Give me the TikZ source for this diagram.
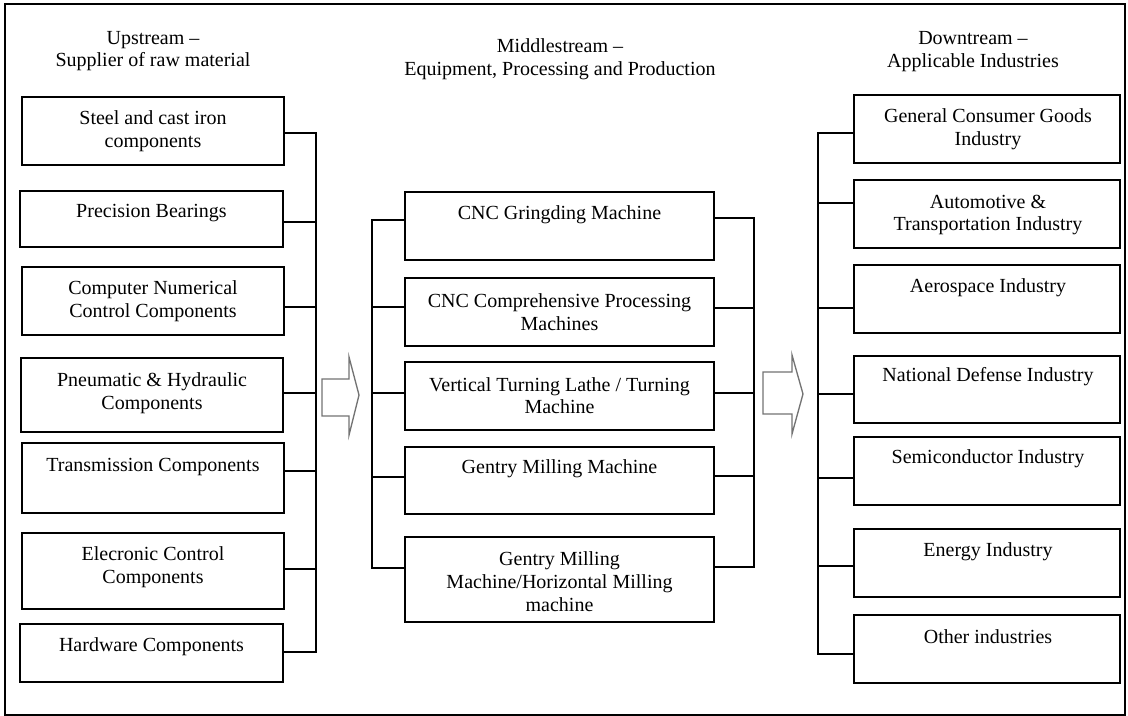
\documentclass[tikz,border=0pt]{standalone}
\usepackage{fontspec}
\setmainfont{Liberation Serif}
\usetikzlibrary{calc}
\begin{document}
\begin{tikzpicture}[x=0.75pt,y=-0.75pt,
  box/.style={draw,line width=0.9pt,inner sep=0pt},
  txt/.style={align=center,inner sep=0pt,font=\fontsize{15}{17}\selectfont},
  conn/.style={line width=1.6pt,line cap=rect},
  bigarrow/.style={draw=black!55,fill=white,line width=1pt,line join=miter}]
\useasboundingbox (0,0) rectangle (1128,716);
\draw[line width=1.3pt] (5,4) rectangle (1125,715);
% headers
\node[txt] (h1) at (153,51) {Upstream –\\Supplier of raw material};
\node[txt] (h2) at (560,59) {Middlestream –\\Equipment, Processing and Production};
\node[txt] (h3) at (973,51.5) {Downtream –\\Applicable Industries};
% left boxes
\node[box,minimum width=196.5pt,minimum height=51pt] (L1) at (153,131) {};
\node[box,minimum width=197.25pt,minimum height=42pt] (L2) at (151.5,219) {};
\node[box,minimum width=196.5pt,minimum height=51pt] (L3) at (153,301) {};
\node[box,minimum width=196.5pt,minimum height=55.5pt] (L4) at (152,395) {};
\node[box,minimum width=196.5pt,minimum height=52.5pt] (L5) at (153,478) {};
\node[box,minimum width=196.5pt,minimum height=57pt] (L6) at (153,571) {};
\node[box,minimum width=197.25pt,minimum height=43.5pt] (L7) at (151.5,653) {};
\node[txt] (tL1) at (153,131.5) {Steel and cast iron\\components};
\node[txt] (tL2) at (151.5,213) {Precision Bearings};
\node[txt] (tL3) at (153,301) {Computer Numerical\\Control Components};
\node[txt] (tL4) at (152,393) {Pneumatic \& Hydraulic\\Components};
\node[txt] (tL5) at (153,467) {Transmission Components};
\node[txt] (tL6) at (153,567) {Elecronic Control\\Components};
\node[txt] (tL7) at (151.5,647) {Hardware Components};
% middle boxes
\node[box,minimum width=231.75pt,minimum height=51pt] (M1) at (559.5,226) {};
\node[box,minimum width=231.75pt,minimum height=51pt] (M2) at (559.5,312) {};
\node[box,minimum width=231.75pt,minimum height=51pt] (M3) at (559.5,396) {};
\node[box,minimum width=231.75pt,minimum height=50.25pt] (M4) at (559.5,480.5) {};
\node[box,minimum width=231.75pt,minimum height=63.75pt] (M5) at (559.5,579.5) {};
\node[txt] (tM1) at (559.5,215) {CNC Gringding Machine};
\node[txt] (tM2) at (559.5,312) {CNC Comprehensive Processing\\Machines};
\node[txt] (tM3) at (559.5,395.5) {Vertical Turning Lathe / Turning\\Machine};
\node[txt] (tM4) at (559.5,469) {Gentry Milling Machine};
\node[txt] (tM5) at (559.5,581.5) {Gentry Milling\\Machine/Horizontal Milling\\machine};
% right boxes
\node[box,minimum width=199.5pt,minimum height=51pt] (R1) at (987,129) {};
\node[box,minimum width=199.5pt,minimum height=51pt] (R2) at (987,214) {};
\node[box,minimum width=199.5pt,minimum height=51pt] (R3) at (987,299) {};
\node[box,minimum width=199.5pt,minimum height=50.25pt] (R4) at (987,389.5) {};
\node[box,minimum width=199.5pt,minimum height=51pt] (R5) at (987,471) {};
\node[box,minimum width=199.5pt,minimum height=51pt] (R6) at (987,563) {};
\node[box,minimum width=199.5pt,minimum height=51pt] (R7) at (987,649) {};
\node[txt] (tR1) at (988,129) {General Consumer Goods\\Industry};
\node[txt] (tR2) at (988,215) {Automotive \&\\Transportation Industry};
\node[txt] (tR3) at (988,288) {Aerospace Industry};
\node[txt] (tR4) at (988,377) {National Defense Industry};
\node[txt] (tR5) at (988,459) {Semiconductor Industry};
\node[txt] (tR6) at (988,552) {Energy Industry};
\node[txt] (tR7) at (988,637) {Other industries};
% bus coordinates
\coordinate (bl1) at (316,133);
\coordinate (bl7) at (316,652);
\coordinate (bm1) at (372,220);
\coordinate (bm5) at (372,568);
\coordinate (bn1) at (754,218);
\coordinate (bn5) at (754,567);
\coordinate (br1) at (818,133);
\coordinate (br7) at (818,654);
% left bus
\draw[conn] ($(L1.east)+(0,2)$) -- (bl1) -- (bl7) -- ($(L7.east)+(0,-1)$);
\draw[conn] ($(L2.east)+(0,3)$) -- (bl1 |- {$(L2.east)+(0,3)$});
\draw[conn] ($(L3.east)+(0,6)$) -- (bl1 |- {$(L3.east)+(0,6)$});
\draw[conn] ($(L4.east)+(0,-2)$) -- (bl1 |- {$(L4.east)+(0,-2)$});
\draw[conn] ($(L5.east)+(0,-7)$) -- (bl1 |- {$(L5.east)+(0,-7)$});
\draw[conn] ($(L6.east)+(0,-2)$) -- (bl1 |- {$(L6.east)+(0,-2)$});
% middle left bus
\draw[conn] ($(M1.west)+(0,-6)$) -- (bm1) -- (bm5) -- ($(M5.west)+(0,-11.5)$);
\draw[conn] ($(M2.west)+(0,-5)$) -- (bm1 |- {$(M2.west)+(0,-5)$});
\draw[conn] ($(M3.west)+(0,-3)$) -- (bm1 |- {$(M3.west)+(0,-3)$});
\draw[conn] ($(M4.west)+(0,-3.5)$) -- (bm1 |- {$(M4.west)+(0,-3.5)$});
% middle right bus
\draw[conn] ($(M1.east)+(0,-8)$) -- (bn1) -- (bn5) -- ($(M5.east)+(0,-12.5)$);
\draw[conn] ($(M2.east)+(0,-4)$) -- (bn1 |- {$(M2.east)+(0,-4)$});
\draw[conn] ($(M3.east)+(0,-3)$) -- (bn1 |- {$(M3.east)+(0,-3)$});
\draw[conn] ($(M4.east)+(0,-4.5)$) -- (bn1 |- {$(M4.east)+(0,-4.5)$});
% right bus
\draw[conn] ($(R1.west)+(0,4)$) -- (br1) -- (br7) -- ($(R7.west)+(0,5)$);
\draw[conn] ($(R2.west)+(0,-11)$) -- (br1 |- {$(R2.west)+(0,-11)$});
\draw[conn] ($(R3.west)+(0,9)$) -- (br1 |- {$(R3.west)+(0,9)$});
\draw[conn] ($(R4.west)+(0,4.5)$) -- (br1 |- {$(R4.west)+(0,4.5)$});
\draw[conn] ($(R5.west)+(0,7)$) -- (br1 |- {$(R5.west)+(0,7)$});
\draw[conn] ($(R6.west)+(0,3)$) -- (br1 |- {$(R6.west)+(0,3)$});
% big arrows
\draw[bigarrow] (322,379) -- (349,379) -- (349,357) -- (359,395) -- (349,435) -- (349,416) -- (322,416) -- cycle;
\draw[bigarrow] (763,372) -- (792,372) -- (792,355) -- (803,394) -- (792,434) -- (792,414) -- (763,414) -- cycle;
\end{tikzpicture}
\end{document}
